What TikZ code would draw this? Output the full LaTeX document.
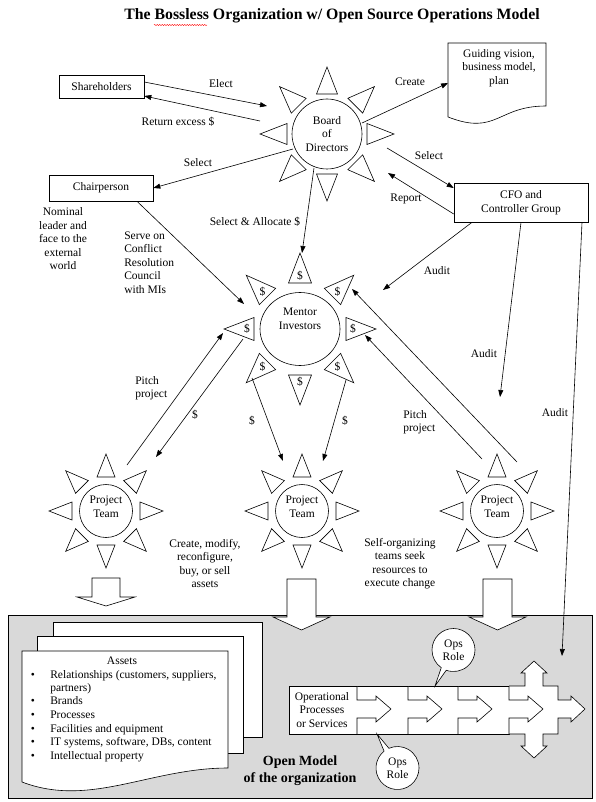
\documentclass[tikz,border=0pt]{standalone}
\usepackage{fontspec}
\setmainfont{Liberation Serif}
\usetikzlibrary{shapes.geometric, shapes.callouts, arrows.meta, calc, decorations.pathmorphing}
\tikzset{>={Triangle[length=7pt, width=5pt]},
  every node/.style={font=\fontsize{11.5}{13.5}\selectfont, inner sep=0pt, align=center},
  box/.style={draw, fill=white, rectangle},
  hub/.style={draw, fill=white, circle},
  ray/.style={draw, fill=white},
  link/.style={->},
  block/.style={draw, fill=white},
  role/.style={ellipse callout, draw, fill=white, minimum width=43pt, minimum height=43pt}}

% eight triangular rays round a hub: centre, base, tip, half width
\newcommand{\sunrays}[4]{%
  \foreach \a in {0,45,...,315}{
    \draw[ray] ($(#1)+(\a:#2)+(\a+90:#4)$) -- ($(#1)+(\a:#3)$) -- ($(#1)+(\a:#2)+(\a-90:#4)$) -- cycle;
  }%
}
% white block arrow pointing down: x, top, head base, tip, stem half width, head half width
\newcommand{\blockdown}[6]{%
  \draw[block] (#1-#5,#2) -- (#1+#5,#2) -- (#1+#5,#3) -- (#1+#6,#3) -- (#1,#4) -- (#1-#6,#3) -- (#1-#5,#3) -- cycle;
}

\begin{document}
\begin{tikzpicture}[x=1pt, y=-1pt, line width=0.6pt]
\useasboundingbox (0,0) rectangle (595,802);

% title
\node[font=\fontsize{15.8}{19}\selectfont\bfseries] (title) at (332,16) {The Bossless Organization w/ Open Source Operations Model};
\draw[red, line width=0.4pt, decorate, decoration={snake, amplitude=0.6pt, segment length=2.5pt}] (154,25) -- (207,25);

% boxes at the top
\node[box, minimum width=85pt, minimum height=23pt] (share) at (101.5,86.5) {Shareholders};
\node[box, minimum width=104pt, minimum height=26pt] (chair) at (101,188) {Chairperson};
\node[box, minimum width=134pt, minimum height=39pt] (cfo) at (521,202.5) {CFO and\\Controller Group};
\draw[fill=white] (448,43) -- (546,43) -- (546,106) .. controls (497,106) and (497,136) .. (448,117) -- cycle;
\node (vision) at (499,68) {Guiding vision,\\business model,\\plan};
\coordinate (vision-w) at (448,83);

% board
\node[hub, minimum size=70pt] (board) at (327,134) {Board\\of\\Directors};
\sunrays{board}{40}{67}{10.5}

% mentor investors
\node[draw, fill=white, ellipse, minimum width=80pt, minimum height=73pt] (mi) at (300,329) {};
\node (mi-text) at (300,319) {Mentor\\Investors};
\sunrays{mi}{46}{76}{11.5}
\foreach \a in {0,45,...,315}
  \node (mi-pay\a) at ($(mi)+(\a:53)$) {\$};

% project teams
\foreach \n/\x in {pt1/106, pt2/302, pt3/497}{
  \node[hub, minimum size=53pt] (\n) at (\x,511) {};
  \node (\n-text) at (\x,506.5) {Project\\Team};
  \sunrays{\n}{34}{57}{9}
}

% open model of the organization
\draw[fill=black!15] (8,615) rectangle (592,798);
\blockdown{106}{578}{597}{606}{14}{29}
\blockdown{301.5}{579}{617}{630}{14.5}{28.5}
\blockdown{497.5}{579}{617}{630}{14.5}{28.5}

% assets pages
\draw[fill=white] (53,622) rectangle (262,737);
\draw[fill=white] (37,636) rectangle (243,753);
\draw[fill=white] (22,651) -- (228,651) -- (228,768) .. controls (150,768) and (90,808) .. (22,782) -- cycle;
\node (assets) at (122,661) {Assets};
\foreach \y/\t in {676/{Relationships (customers, suppliers,}, 702/Brands, 716/Processes,
    730/Facilities and equipment, 743/{IT systems, software, DBs, content}, 757/Intellectual property}{
  \node (bullet\y) at (33,\y) {\textbullet};
  \node[anchor=west, text height=8pt, text depth=2.5pt] (item\y) at (50,\y) {\t};
}
\node[anchor=west, text height=8pt, text depth=2.5pt] (item689) at (50,689) {partners)};
\node[font=\fontsize{14}{17}\selectfont\bfseries] (open) at (300,770.5) {Open Model\\of the organization};

% operational processes
\draw[fill=white] (289,686) rectangle (509,734);
\draw[fill=white] (509,686) -- (525,686) -- (525,673) -- (521,673) -- (534,661) -- (547,673) -- (543,673)
  -- (543,686) -- (558,686) -- (558,700) -- (571,700) -- (571,696) -- (585,709) -- (571,722)
  -- (571,718) -- (558,718) -- (558,734) -- (543,734) -- (543,746) -- (547,746) -- (534,758)
  -- (521,746) -- (525,746) -- (525,734) -- (509,734);
\foreach \x in {357,408,458,509}
  \draw[fill=white] (\x,686) -- (\x,700) -- (\x+19,700) -- (\x+19,696) -- (\x+34,709) -- (\x+19,722)
    -- (\x+19,718) -- (\x,718) -- (\x,734);
\node (ops) at (322,710) {Operational\\Processes\\or Services};
\node[role, callout absolute pointer={(435,686)}] (role1) at (453.5,650) {Ops\\Role};
\node[role, callout absolute pointer={(377,734)}] (role2) at (397.5,768) {Ops\\Role};

% connector ends
\coordinate (elect-end) at (267,106);
\coordinate (return-start) at (260,121);
\coordinate (create-start) at (362,123);
\coordinate (sel1-start) at (293,149);
\coordinate (sel2-start) at (387,148);
\coordinate (report-end) at (388,173);
\coordinate (alloc-start) at (314,168);
\coordinate (alloc-end) at (302,253);
\coordinate (serve-end) at (244,304);
\coordinate (audit1-end) at (383,290);
\coordinate (audit2-end) at (500,397);
\coordinate (audit3-end) at (562,656);
\coordinate (pitch1-start) at (127,465);
\coordinate (pitch1-end) at (223,333);
\coordinate (pay1-start) at (243,339);
\coordinate (pay1-end) at (156,457);
\coordinate (pay2-start) at (252,378);
\coordinate (pay2-end) at (283,461);
\coordinate (pay3-start) at (346,380);
\coordinate (pay3-end) at (323,461);
\coordinate (pitch2-start) at (482,459);
\coordinate (pitch2-end) at (365,335);
\coordinate (pitch3-start) at (517,462);
\coordinate (pitch3-end) at (352,289);

% labels
\node (elect) at (221,84) {Elect};
\node (return) at (178,122) {Return excess \$};
\node (create) at (410,82) {Create};
\node (sel1) at (198,163) {Select};
\node (sel2) at (429,156) {Select};
\node (report) at (406,199) {Report};
\node (alloc) at (255,222) {Select \& Allocate \$};
\node (nominal) at (63,239) {Nominal\\leader and\\face to the\\external\\world};
\node[align=left, anchor=west] (serve) at (124,262.5) {Serve on\\Conflict\\Resolution\\Council\\with MIs};
\node (audit1) at (437,271) {Audit};
\node (audit2) at (484,354) {Audit};
\node (audit3) at (555,413) {Audit};
\node[align=left, anchor=west] (pitch1) at (135,388) {Pitch\\project};
\node (pay1) at (195,415) {\$};
\node (pay2) at (252,421) {\$};
\node (pay3) at (345,421) {\$};
\node[align=left, anchor=west] (pitch2) at (403,422) {Pitch\\project};
\node (change) at (205,563.5) {Create, modify,\\reconfigure,\\buy, or sell\\assets};
\node (selforg) at (400,563.5) {Self-organizing\\teams seek\\resources to\\execute change};

% connectors
\draw[link] ([yshift=4.5pt]share.east) -- (elect-end);
\draw[link] (return-start) -- ([yshift=-9.5pt]share.east);
\draw[link] (create-start) -- (vision-w);
\draw[link] (sel1-start) -- (chair.east);
\draw[link] (sel2-start) -- ([yshift=14.5pt]cfo.west);
\draw[link] ([yshift=-11.5pt]cfo.west) -- (report-end);
\draw[link] (alloc-start) -- (alloc-end);
\draw[link] ([xshift=36pt]chair.south) -- (serve-end);
\draw[link] ([xshift=-49pt]cfo.south) -- (audit1-end);
\draw[link] (cfo.south) -- (audit2-end);
\draw[link] ([xshift=61pt]cfo.south) -- (audit3-end);
\draw[link] (pitch1-start) -- (pitch1-end);
\draw[link] (pay1-start) -- (pay1-end);
\draw[link] (pay2-start) -- (pay2-end);
\draw[link] (pay3-start) -- (pay3-end);
\draw[link] (pitch2-start) -- (pitch2-end);
\draw[link] (pitch3-start) -- (pitch3-end);
\end{tikzpicture}
\end{document}
